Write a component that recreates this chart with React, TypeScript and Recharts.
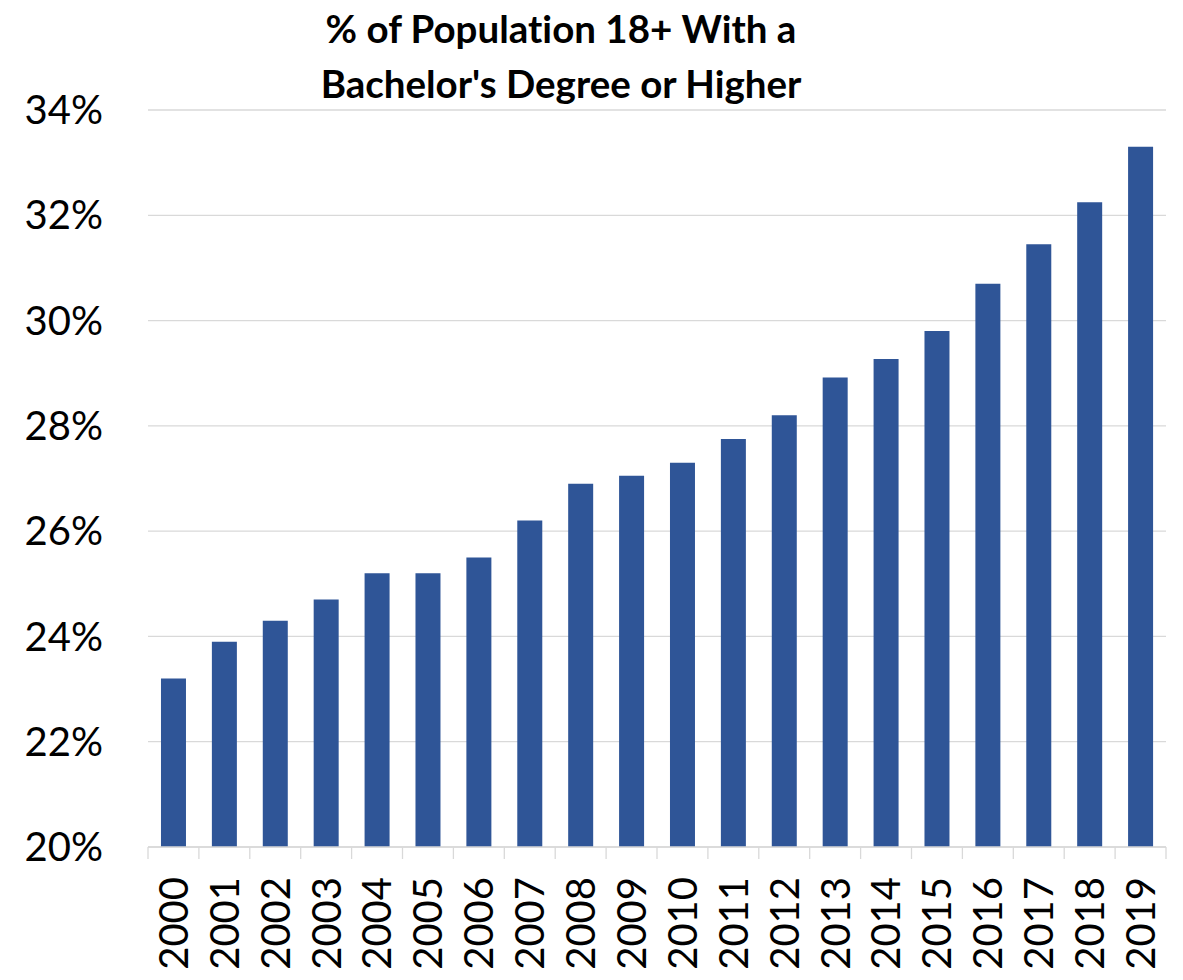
import { BarChart, Bar, XAxis, YAxis, CartesianGrid } from 'recharts';

const years = [
  '2000', '2001', '2002', '2003', '2004', '2005', '2006', '2007', '2008', '2009',
  '2010', '2011', '2012', '2013', '2014', '2015', '2016', '2017', '2018', '2019',
];
const shares = [
  23.2, 23.9, 24.3, 24.7, 25.2, 25.2, 25.5, 26.2, 26.9, 27.05,
  27.3, 27.75, 28.2, 28.92, 29.27, 29.8, 30.7, 31.45, 32.25, 33.3,
];
const yTicks = [20, 22, 24, 26, 28, 30, 32, 34];
const titleLines = ['% of Population 18+ With a', "Bachelor's Degree or Higher"];

const W = 1183;
const H = 980;
const LEFT = 148;
const RIGHT = 17;
const BAND = (W - LEFT - RIGHT) / years.length;
const FONT = 'Lato, "Open Sans", sans-serif';

const data = years.map((year, i) => ({ year, value: shares[i] }));

function YearTick(props: any) {
  const { x, y, payload, index } = props;
  const axisY = y - 30;
  return (
    <g>
      <line x1={x - BAND / 2} x2={x - BAND / 2} y1={axisY} y2={axisY + 12} stroke="#d9d9d9" strokeWidth={1.3} />
      {index === years.length - 1 && (
        <line x1={x + BAND / 2} x2={x + BAND / 2} y1={axisY} y2={axisY + 12} stroke="#d9d9d9" strokeWidth={1.3} />
      )}
      <text
        x={x}
        y={y}
        transform={`rotate(-90, ${x}, ${y})`}
        textAnchor="end"
        dy="0.36em"
        fill="#000"
        fontSize={40}
        fontFamily={FONT}
      >
        {payload.value}
      </text>
    </g>
  );
}

const titleStyle = { fontVariantLigatures: 'none' } as const;

export default function App() {
  return (
    <div style={{ position: 'absolute', left: 0, top: 0, background: '#fff' }}>
      <BarChart
        width={W}
        height={H}
        data={data}
        margin={{ top: 110, right: RIGHT, left: 0, bottom: 0 }}
        barCategoryGap="25.5%"
      >
        <text x={561} y={43} textAnchor="middle" fontSize={38.5} fontWeight={700} fontFamily={FONT} fill="#000" style={titleStyle}>
          {titleLines[0]}
        </text>
        <text x={561} y={98} textAnchor="middle" fontSize={38.5} fontWeight={700} fontFamily={FONT} fill="#000" style={titleStyle}>
          {titleLines[1]}
        </text>
        <CartesianGrid vertical={false} stroke="#d9d9d9" strokeWidth={1.3} />
        <XAxis
          dataKey="year"
          interval={0}
          height={133}
          tickSize={12}
          tickMargin={18}
          tickLine={false}
          axisLine={{ stroke: '#d9d9d9', strokeWidth: 1.3 }}
          tick={<YearTick />}
        />
        <YAxis
          width={LEFT}
          domain={[20, 34]}
          ticks={yTicks}
          interval={0}
          allowDataOverflow
          axisLine={false}
          tickLine={false}
          tickSize={0}
          tickMargin={45}
          tickFormatter={(v: number) => `${v}%`}
          tick={{ fill: '#000', fontSize: 40, fontFamily: FONT }}
        />
        <Bar dataKey="value" fill="#2f5597" isAnimationActive={false} />
      </BarChart>
    </div>
  );
}
